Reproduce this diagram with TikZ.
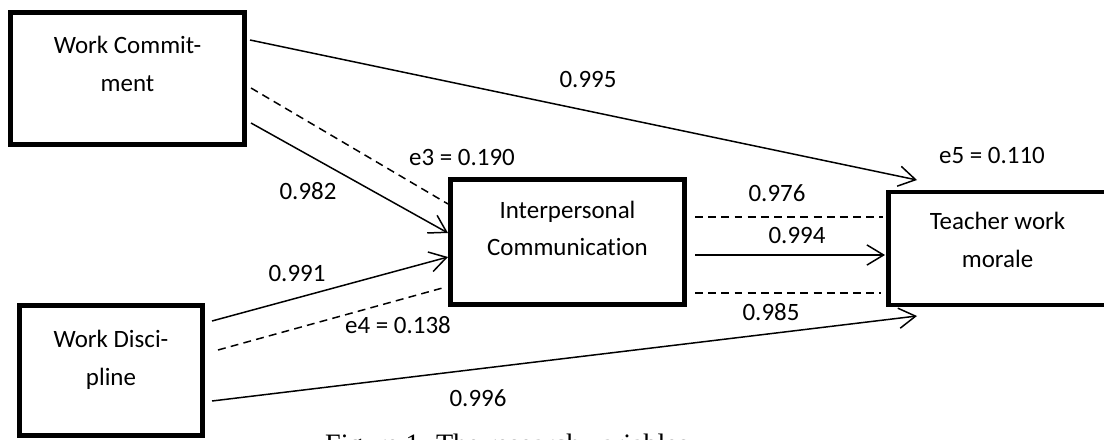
\documentclass[tikz,border=0pt]{standalone}
\usepackage{fontspec}
\setmainfont[Ligatures=NoCommon]{Carlito}
\newfontfamily\capfont{Liberation Serif}
\usetikzlibrary{arrows.meta,calc}
\begin{document}
\begin{tikzpicture}[x=0.02cm,y=-0.02cm,
 box/.style={draw, line width=2.8pt, rectangle, inner sep=0pt},
 txt/.style={font=\fontsize{14.2}{21.5}\selectfont, align=center, inner sep=0pt},
 lbl/.style={font=\fontsize{14.2}{17}\selectfont, anchor=base, inner sep=0pt},
 conn/.style={line width=0.85pt},
 dsh/.style={conn, dash pattern=on 4.5pt off 3pt},
 arr/.style={conn, -{Straight Barb[length=9.5pt,width=11.5pt,line width=0.85pt]}},
]
\useasboundingbox (0,0) rectangle (1104,439);
\clip (0,0) rectangle (1104,439);
% boxes
\node[box, minimum width=4.68cm, minimum height=2.64cm] (wc) at (127.5,78.5) {};
\node[box, minimum width=3.66cm, minimum height=2.6cm] (wd) at (111,370.5) {};
\node[box, minimum width=4.68cm, minimum height=2.5cm] (ic) at (567.5,242) {};
\node[box, minimum width=4.36cm, minimum height=2.26cm] (twm) at (997.5,248.5) {};
% box texts
\node[txt] (wct) at (127.5,64) {Work Commit-\\ment};
\node[txt] (wdt) at (111,360) {Work Disci-\\pline};
\node[txt] (ict) at (567.5,228.5) {Interpersonal\\Communication};
\node[txt] (twmt) at (997.5,240) {Teacher work\\morale};
% connector end points
\coordinate (s1) at (250,40);   \coordinate (t1) at (917,180);
\coordinate (s2) at (251,88);   \coordinate (t2) at (448,204);
\coordinate (s3) at (251,123);  \coordinate (t3) at (448,233);
\coordinate (s4) at (212,321);  \coordinate (t4) at (448,257);
\coordinate (s5) at (218,350);  \coordinate (t5) at (446,287);
\coordinate (s6) at (212,401);  \coordinate (t6) at (917,316);
\coordinate (s7) at (695,217);  \coordinate (t7) at (883,217);
\coordinate (s8) at (695,255);  \coordinate (t8) at (885,255);
\coordinate (s9) at (695,293);  \coordinate (t9) at (881,293);
% connectors
\draw[arr] (s1) -- (t1);
\draw[dsh] (s2) -- (t2);
\draw[arr] (s3) -- (t3);
\draw[arr] (s4) -- (t4);
\draw[dsh] (s5) -- (t5);
\draw[arr] (s6) -- (t6);
\draw[dsh] (s7) -- (t7);
\draw[arr] (s8) -- (t8);
\draw[dsh] (s9) -- (t9);
% labels
\node[lbl] (l1) at (588,88) {0.995};
\node[lbl] (l2) at (462,165) {e3 = 0.190};
\node[lbl] (l3) at (308,199) {0.982};
\node[lbl] (l4) at (297,281) {0.991};
\node[lbl] (l5) at (398,333) {e4 = 0.138};
\node[lbl] (l6) at (478,406) {0.996};
\node[lbl] (l7) at (777,201) {0.976};
\node[lbl] (l8) at (797,243) {0.994};
\node[lbl] (l9) at (771,320) {0.985};
\node[lbl] (l10) at (992,163) {e5 = 0.110};
% caption (cut off at the bottom edge, as in the reference)
\node[font=\capfont\fontsize{16}{19}\selectfont, anchor=base, inner sep=0pt] (cap) at (507,453) {Figure 1. The research variables};
\end{tikzpicture}
\end{document}
